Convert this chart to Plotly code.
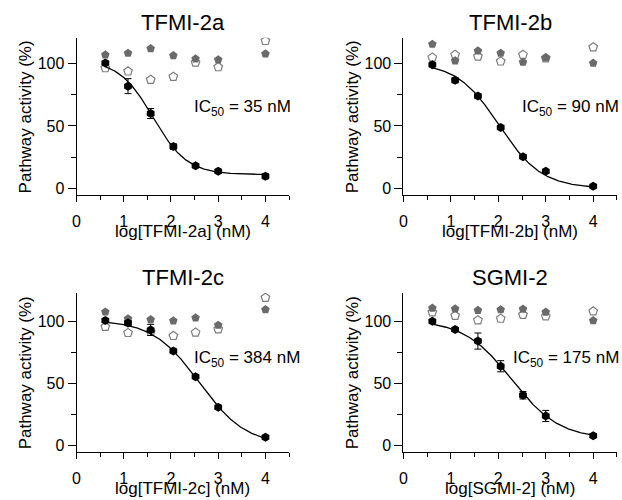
import numpy as np
import plotly.graph_objects as go

# ---------------- data ----------------
log_conc = [0.61, 1.09, 1.57, 2.05, 2.52, 3.0, 4.0]

panel_titles = ["TFMI-2a", "TFMI-2b", "TFMI-2c", "SGMI-2"]
x_titles = ["log[TFMI-2a] (nM)", "log[TFMI-2b] (nM)", "log[TFMI-2c] (nM)", "log[SGMI-2] (nM)"]
ic50_labels = ["35", "90", "384", "175"]

# inhibitor response (black, with error bars)
resp_a = [100.5, 82, 60, 33.5, 18, 13.6, 9.6]
resp_b = [99.2, 86.7, 74, 48.7, 25.3, 13.6, 1.6]
resp_c = [100.5, 98.5, 93, 75.9, 55.3, 30.7, 6.4]
resp_d = [100, 93.4, 84, 63.7, 40.3, 23.6, 7.7]

err_a = [1.2, 6, 4, 2.2, 1.5, 1.5, 2]
err_b = [1, 2, 1.5, 1.5, 1, 1, 1]
err_c = [1, 2, 4.5, 1.5, 1, 1, 1]
err_d = [1, 1.5, 6.5, 4.5, 3, 4.5, 1.5]

# control series 1 (gray filled pentagons)
ctrl1_a = [107.2, 108.5, 112.2, 106.6, 104, 103.2, 108]
ctrl1_b = [115.7, 102.4, 110.4, 108.5, 101.3, 105, 100.5]
ctrl1_c = [107.5, 102, 101.3, 100.3, 102.7, 96.8, 109.4]
ctrl1_d = [110.6, 110, 108.8, 109.3, 109.8, 107.4, 100.5]

# control series 2 (open pentagons)
ctrl2_a = [96.5, 93.9, 87.2, 89.6, 101, 97.3, 118.4]
ctrl2_b = [105, 107.2, 105.9, 101.9, 107.2, 104.5, 113.3]
ctrl2_c = [95.5, 90.6, 91.4, 88.2, 90.9, 93.6, 119]
ctrl2_d = [107.2, 104.5, 100.8, 102.1, 105.3, 104, 108]

# four-parameter logistic fit parameters: top, bottom, log midpoint, Hill slope
fit_top = [103, 101, 101, 101]
fit_bottom = [11, 0, 0, 5]
fit_logmid = [1.62, 2.02, 2.60, 2.28]
fit_hill = [1.2, 0.97, 0.88, 0.86]

responses = [resp_a, resp_b, resp_c, resp_d]
errors = [err_a, err_b, err_c, err_d]
ctrl1 = [ctrl1_a, ctrl1_b, ctrl1_c, ctrl1_d]
ctrl2 = [ctrl2_a, ctrl2_b, ctrl2_c, ctrl2_d]

# ---------------- layout geometry ----------------
W, H = 622, 500
FONT = "Liberation Sans, Arial, Helvetica, sans-serif"
x_dom_px = [(73, 287), (402, 617), (73, 287), (402, 617)]
y_dom_px = [(38, 196), (38, 196), (294, 454), (294, 454)]
y_ranges = [[-5.6, 120.8], [-5.6, 120.8], [-5.6, 122.9], [-5.6, 122.9]]
ic50_pos = [(2.44, 64.5), (2.45, 64.5), (2.44, 69.5), (2.26, 69.5)]

fig = go.Figure()

for i in range(4):
    ax = "" if i == 0 else str(i + 1)
    xa, ya = "x" + ax, "y" + ax
    # open pentagons
    fig.add_trace(go.Scatter(
        x=log_conc, y=ctrl2[i], mode="markers", xaxis=xa, yaxis=ya,
        marker=dict(symbol="pentagon", size=9, color="white",
                    line=dict(color="#7d7d7d", width=1.2)),
        showlegend=False, hoverinfo="x+y"))
    # gray filled pentagons
    fig.add_trace(go.Scatter(
        x=log_conc, y=ctrl1[i], mode="markers", xaxis=xa, yaxis=ya,
        marker=dict(symbol="pentagon", size=9, color="#6a6a6a",
                    line=dict(width=0)),
        showlegend=False, hoverinfo="x+y"))
    # fitted curve
    xf = np.linspace(log_conc[0], log_conc[-1], 200)
    yf = fit_bottom[i] + (fit_top[i] - fit_bottom[i]) / (
        1 + 10 ** ((xf - fit_logmid[i]) * fit_hill[i]))
    fig.add_trace(go.Scatter(
        x=xf, y=yf, mode="lines", xaxis=xa, yaxis=ya,
        line=dict(color="black", width=1.3),
        showlegend=False, hoverinfo="skip"))
    # inhibitor response
    fig.add_trace(go.Scatter(
        x=log_conc, y=responses[i], mode="markers", xaxis=xa, yaxis=ya,
        error_y=dict(type="data", array=errors[i], color="black",
                     thickness=1, width=3.5),
        marker=dict(symbol="hexagon", size=9, color="black"),
        showlegend=False, hoverinfo="x+y"))

    x0, x1 = x_dom_px[i]
    yt, yb = y_dom_px[i]
    xdom = [x0 / W, x1 / W]
    ydom = [1 - yb / H, 1 - yt / H]

    fig.layout["xaxis" + ax] = dict(
        domain=xdom, anchor=ya, range=[0, 4.502],
        tickvals=[0, 1, 2, 3, 4], ticks="outside", ticklen=6, tickwidth=1,
        tickcolor="black", showline=True, linecolor="black", linewidth=1,
        showgrid=False, zeroline=False, ticklabelstandoff=6,
        tickfont=dict(family=FONT, size=16, color="black"),
        minor=dict(tickvals=[0.5, 1.5, 2.5, 3.5, 4.5], ticks="outside",
                   ticklen=4, tickwidth=1, tickcolor="black", showgrid=False))
    fig.layout["yaxis" + ax] = dict(
        domain=ydom, anchor=xa, range=y_ranges[i],
        tickvals=[0, 50, 100], ticks="outside", ticklen=8, tickwidth=1,
        tickcolor="black", showline=True, linecolor="black", linewidth=1,
        showgrid=False, zeroline=False,
        tickfont=dict(family=FONT, size=16, color="black"),
        minor=dict(tickvals=[25, 75], ticks="outside",
                   ticklen=5, tickwidth=1, tickcolor="black", showgrid=False))

    xc = (x0 + x1) / 2 / W
    # panel title
    fig.add_annotation(text=panel_titles[i], xref="paper", yref="paper",
                       x=xc, y=1 - (yt - 1) / H, xanchor="center", yanchor="bottom",
                       showarrow=False, font=dict(family=FONT, size=22, color="black"))
    # x axis title
    fig.add_annotation(text=x_titles[i], xref="paper", yref="paper",
                       x=xc, y=1 - (yb + 25) / H, xanchor="center", yanchor="top",
                       showarrow=False, font=dict(family=FONT, size=17, color="black"))
    # y axis title
    fig.add_annotation(text="Pathway activity (%)", xref="paper", yref="paper",
                       x=(x0 - 51) / W, y=1 - (yt + yb) / 2 / H,
                       xanchor="center", yanchor="middle", textangle=-90,
                       showarrow=False, font=dict(family=FONT, size=17, color="black"))
    # IC50 label
    fig.add_annotation(text="IC<sub>50</sub> = " + ic50_labels[i] + " nM",
                       xref=xa, yref=ya, x=ic50_pos[i][0], y=ic50_pos[i][1],
                       xanchor="left", yanchor="middle", showarrow=False,
                       font=dict(family=FONT, size=17, color="black"))

fig.update_layout(width=W, height=H, autosize=False,
                  margin=dict(l=0, r=0, t=0, b=0),
                  paper_bgcolor="white", plot_bgcolor="white",
                  font=dict(family=FONT, color="black"))

fig.write_html("out.html",
               config={"displayModeBar": False},
               post_script="document.body.style.margin='0';"
                           "document.body.style.overflow='hidden';")
